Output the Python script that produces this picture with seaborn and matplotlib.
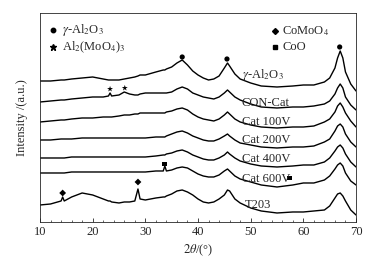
import numpy as np
import pandas as pd
import seaborn as sns
import matplotlib.pyplot as plt

sns.set_style("ticks")
plt.rcParams["font.family"] = ["Liberation Serif", "DejaVu Serif"]
plt.rcParams["mathtext.fontset"] = "stix"
plt.rcParams["xtick.direction"] = "in"
plt.rcParams["ytick.direction"] = "in"

# 2theta grid (deg)
two_theta = [10, 12, 14, 14.3, 14.6, 16, 18, 20, 22, 23, 23.3, 23.6, 25, 26, 27, 28, 28.6, 29, 30,
             32, 33.4, 33.7, 34, 35, 36, 37, 38, 39, 40, 41, 42, 43, 44, 45, 45.6, 46, 47, 48,
             50, 52, 55, 58, 60, 62, 64, 65, 66, 66.5, 67, 67.5, 68, 69, 70]

# stacked intensities (a.u.)
gamma_al2o3 = [141, 141, 142, 142, 142, 143, 144, 145, 143, 142, 142, 142, 142, 143, 144, 145, 146, 147, 147,
               150, 152, 152, 153, 155, 159, 162, 157, 151, 147, 144, 142, 143, 146, 154, 159, 156, 148, 143,
               139, 136, 135, 136, 137, 137, 140, 144, 154, 164, 171, 164, 150, 138, 131]
con_cat = [120, 121, 122, 122, 122, 123, 124, 125, 125, 126, 129, 126, 127, 130, 128, 127, 127, 128, 129,
           129, 129, 129, 129, 130, 133, 135, 133, 129, 127, 125, 124, 123, 125, 129, 132, 130, 125, 122,
           118, 115, 114, 115, 115, 116, 118, 121, 128, 134, 138, 134, 125, 117, 112]
cat_100v = [100, 101, 102, 102, 102, 103, 104, 104, 105, 105, 105, 105, 106, 107, 107, 108, 108, 109, 109,
            109, 109, 109, 110, 111, 113, 114, 112, 108, 105, 103, 102, 101, 103, 107, 110, 108, 103, 100,
            97, 95, 94, 95, 95, 96, 100, 103, 110, 116, 119, 115, 109, 101, 95]
cat_200v = [82, 82, 83, 83, 83, 83, 84, 84, 84, 84, 84, 84, 84, 84, 84, 84, 84, 84, 84,
            85, 85, 85, 86, 88, 90, 91, 89, 86, 84, 82, 81, 81, 83, 86, 88, 86, 82, 79,
            77, 75, 74, 75, 75, 76, 80, 83, 91, 96, 98, 95, 88, 80, 75]
cat_400v = [64, 64, 64, 64, 64, 65, 65, 65, 65, 65, 65, 65, 65, 65, 65, 65, 65, 65, 65,
            66, 67, 67, 68, 69, 71, 72, 70, 67, 65, 63, 62, 62, 64, 67, 70, 68, 64, 61,
            58, 56, 55, 56, 57, 57, 60, 64, 71, 75, 77, 74, 68, 60, 55]
cat_600v = [49, 49, 49, 49, 49, 50, 50, 50, 50, 50, 50, 50, 50, 50, 50, 50, 50, 50, 50,
            51, 51, 56, 51, 52, 54, 55, 54, 51, 48, 46, 45, 45, 47, 51, 53, 51, 46, 43,
            40, 37, 35, 37, 39, 39, 42, 46, 53, 57, 59, 56, 49, 41, 37]
t203 = [17, 18, 21, 25, 21, 25, 29, 27, 23, 21, 21, 20, 19, 20, 20, 21, 33, 23, 22,
        24, 25, 25, 26, 28, 31, 32, 30, 27, 23, 20, 19, 20, 23, 27, 32, 31, 23, 19,
        14, 11, 9, 10, 10, 11, 12, 16, 24, 28, 29, 26, 21, 12, 7]

samples = ["γ-Al2O3", "CON-Cat", "Cat 100V", "Cat 200V", "Cat 400V", "Cat 600V", "T203"]
labels = ["$\\gamma$-Al$_2$O$_3$", "CON-Cat", "Cat 100V", "Cat 200V", "Cat 400V", "Cat 600V", "T203"]
label_x = [48.3, 48.3, 48.3, 48.3, 48.3, 48.3, 48.9]
label_y = [147, 119, 100, 82, 63, 43, 17]

# phase markers
al2o3_x, al2o3_y = [37.0, 45.5, 66.9], [165, 163, 175]
almoo_x, almoo_y = [23.3, 26.1], [133, 134]
comoo_x, comoo_y = [14.3, 28.6], [29, 40]
coo_x, coo_y = [33.7, 57.3], [58, 44]

series = [gamma_al2o3, con_cat, cat_100v, cat_200v, cat_400v, cat_600v, t203]
df = pd.concat([pd.DataFrame({"two_theta": two_theta, "intensity": s, "sample": n})
                for s, n in zip(series, samples)])

fig = plt.figure(figsize=(3.85, 2.6), dpi=100)
ax = fig.add_axes([0.1039, 0.1462, 0.8208, 0.8038])

sns.lineplot(data=df, x="two_theta", y="intensity", units="sample", estimator=None,
             color="black", linewidth=1.0, ax=ax)

sns.scatterplot(x=al2o3_x, y=al2o3_y, marker="o", s=14, color="black", edgecolor="none", ax=ax)
sns.scatterplot(x=almoo_x, y=almoo_y, marker="*", s=20, color="black", edgecolor="none", ax=ax)
sns.scatterplot(x=comoo_x, y=comoo_y, marker="D", s=12, color="black", edgecolor="none", ax=ax)
sns.scatterplot(x=coo_x, y=coo_y, marker="s", s=12, color="black", edgecolor="none", ax=ax)

fs = 9
for t, x, y in zip(labels, label_x, label_y):
    ax.text(x, y, t, fontsize=fs, va="center", ha="left")

# legend
ax.plot(0.041, 0.919, "o", ms=3.2, color="black", transform=ax.transAxes)
ax.text(0.07, 0.919, "$\\gamma$-Al$_2$O$_3$", fontsize=fs, va="center", transform=ax.transAxes)
ax.plot(0.041, 0.837, "*", ms=4.5, color="black", transform=ax.transAxes)
ax.text(0.07, 0.837, "Al$_2$(MoO$_4$)$_3$", fontsize=fs, va="center", transform=ax.transAxes)
ax.plot(0.744, 0.913, "D", ms=3, color="black", transform=ax.transAxes)
ax.text(0.766, 0.913, "CoMoO$_4$", fontsize=fs, va="center", transform=ax.transAxes)
ax.plot(0.744, 0.837, "s", ms=3, color="black", transform=ax.transAxes)
ax.text(0.766, 0.837, "CoO", fontsize=fs, va="center", transform=ax.transAxes)

ax.set_xlim(10, 70)
ax.set_ylim(0, 209)
ax.set_xticks([10, 20, 30, 40, 50, 60, 70])
ax.set_xticks(np.arange(10, 71, 2), minor=True)
ax.set_yticks([])
ax.tick_params(axis="x", labelsize=fs, length=3, width=0.6, pad=3)
ax.tick_params(axis="x", which="minor", length=1.5, width=0.5)
ax.set_xlabel("$2\\theta$/(°)", fontsize=fs, labelpad=3)
ax.set_ylabel("Intensity /(a.u.)", fontsize=fs, labelpad=9)
for sp in ax.spines.values():
    sp.set_linewidth(0.6)
    sp.set_visible(True)

fig.savefig("out.png", dpi=100)
